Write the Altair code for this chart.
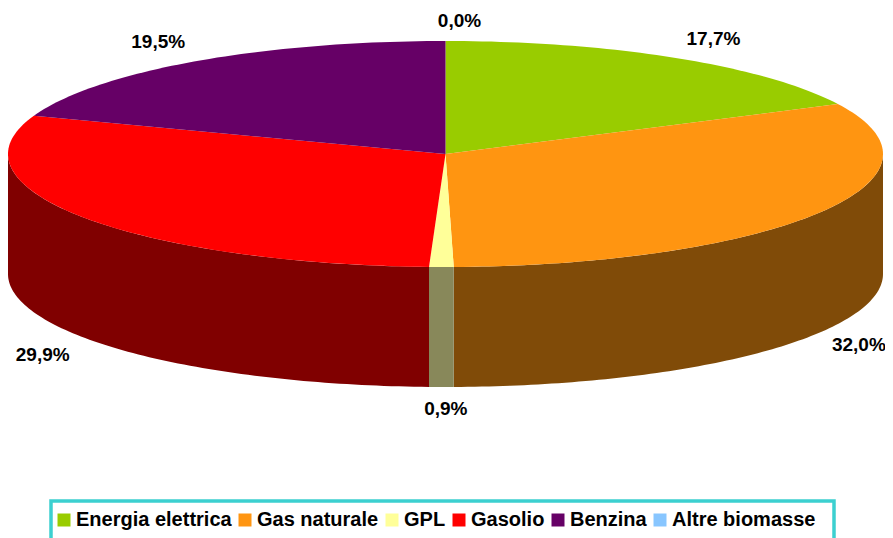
import math
import altair as alt
import pandas as pd

categories = ["Energia elettrica", "Gas naturale", "GPL", "Gasolio", "Benzina", "Altre biomasse"]
shares = [17.7, 32.0, 0.9, 29.9, 19.5, 0.0]
labels = ["17,7%", "32,0%", "0,9%", "29,9%", "19,5%", "0,0%"]
top_colors = ["#99CC00", "#FF9511", "#FFFF99", "#FF0000", "#660066", "#88C6FF"]
wall_colors = ["#4D6600", "#804B08", "#88885A", "#800000", "#330033", "#446380"]

PX = 437.5
RY = 113 / PX
DEPTH = 120 / PX
LABEL_RX, LABEL_RY = 1.13, 1.2 * RY
# label fine placement (px right, px down)
NUDGE = {"17,7%": (7, 0), "19,5%": (-3, -1), "0,0%": (14, 3), "32,0%": (-9, 1), "0,9%": (5, -1), "29,9%": (7, 5)}

total = sum(shares)
top_rows, wall_sets, label_rows = [], [], []
start = 0.0
for cat, share, lab, wall in zip(categories, shares, labels, wall_colors):
    a0 = start / total * 2 * math.pi
    a1 = (start + share) / total * 2 * math.pi
    start += share
    steps = max(2, int(share * 3))
    pts = [a0 + (a1 - a0) * i / steps for i in range(steps + 1)]
    if share > 0:
        ring = [(0.0, 0.0)] + [(math.sin(a), RY * math.cos(a)) for a in pts] + [(0.0, 0.0)]
        for i, (x, y) in enumerate(ring):
            top_rows.append({"cat": cat, "x": x, "y": y, "o": i})
        lo, hi = max(a0, math.pi / 2), min(a1, 3 * math.pi / 2)
        if hi > lo:
            rim = [lo + (hi - lo) * i / steps for i in range(steps + 1)]
            wall_ring = [(math.sin(a), RY * math.cos(a)) for a in rim]
            wall_ring += [(math.sin(a), RY * math.cos(a) - DEPTH) for a in reversed(rim)]
            wall_ring.append(wall_ring[0])
            wall_sets.append((wall, [{"x": x, "y": y, "o": i} for i, (x, y) in enumerate(wall_ring)]))
    mid = (a0 + a1) / 2
    c = math.cos(mid)
    nx, ny = NUDGE.get(lab, (0, 0))
    label_rows.append({"t": lab, "x": LABEL_RX * math.sin(mid) + nx / PX,
                       "y": LABEL_RY * c - (DEPTH if c < 0 else 0) - ny / PX})

xs = alt.Scale(domain=[-1, 877 / PX - 1], nice=False, zero=False)
ys = alt.Scale(domain=[-384 / PX, 146 / PX], nice=False, zero=False)
X = alt.X("x:Q", scale=xs, axis=None)
Y = alt.Y("y:Q", scale=ys, axis=None)

walls = [
    alt.Chart(pd.DataFrame(rows)).mark_line(strokeWidth=0).encode(
        x=X, y=Y, fill=alt.value(wall), order=alt.Order("o:Q"))
    for wall, rows in wall_sets
]

tops = alt.Chart(pd.DataFrame(top_rows)).mark_line(strokeWidth=0).encode(
    x=X, y=Y,
    fill=alt.Fill("cat:N",
                  scale=alt.Scale(domain=categories, range=top_colors),
                  legend=alt.Legend(
                      title=None, orient="none", legendX=46, legendY=502,
                      direction="horizontal", columns=6, symbolType="square",
                      symbolSize=169, symbolStrokeWidth=0, symbolOpacity=1,
                      labelFont="Liberation Sans", labelFontWeight="bold",
                      labelFontSize=20, labelColor="#000000", labelLimit=300,
                      labelOffset=2, columnPadding=3, padding=0,
                  )),
    detail="cat:N",
    order=alt.Order("o:Q"),
)

texts = alt.Chart(pd.DataFrame(label_rows)).mark_text(
    font="Liberation Sans", fontWeight="bold", fontSize=19, color="#000000"
).encode(x=X, y=Y, text="t:N")

legend_box = alt.Chart(pd.DataFrame({"k": [0]})).mark_rect(
    fill="#FFFFFF", stroke="#3CD0D0", strokeWidth=3.5
).encode(x=alt.value(43), x2=alt.value(826), y=alt.value(493), y2=alt.value(560))

chart = alt.layer(*walls, tops, legend_box, texts).properties(
    width=877, height=530, padding=0,
    autosize=alt.AutoSizeParams(type="none"),
    background="#FFFFFF",
).configure_view(stroke=None)

chart.save("out.html", embed_options={"renderer": "svg", "actions": False})
